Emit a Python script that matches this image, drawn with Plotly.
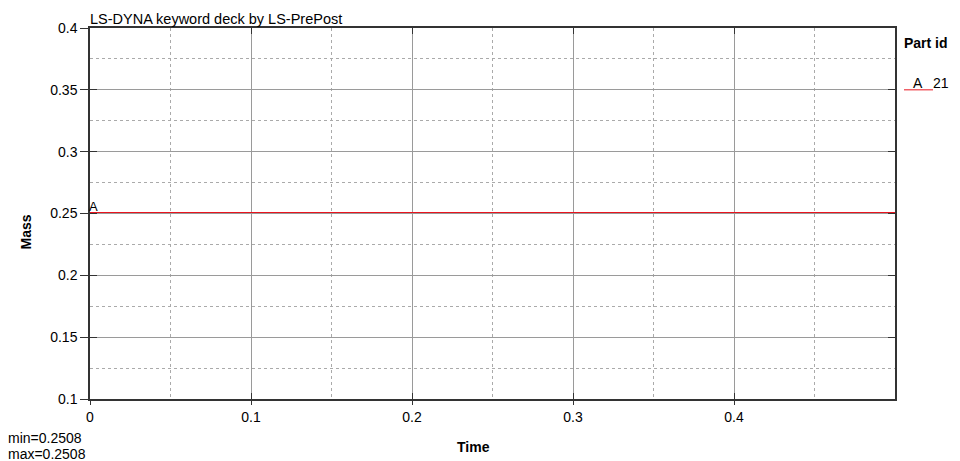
import plotly.graph_objects as go

# Data
time = [0.0, 0.5]
mass = [0.2508, 0.2508]
part_id = "21"
part_label = "A"
x_ticks = [0, 0.1, 0.2, 0.3, 0.4]
x_tick_text = ["0", "0.1", "0.2", "0.3", "0.4"]
y_ticks = [0.1, 0.15, 0.2, 0.25, 0.3, 0.35, 0.4]
y_tick_text = ["0.1", "0.15", "0.2", "0.25", "0.3", "0.35", "0.4"]

FONT = "Liberation Sans, Arial, sans-serif"
GRID = "#9a9a9a"
MINOR = "#aaaaaa"
RED = "#e8141e"

fig = go.Figure()
fig.add_trace(go.Scatter(x=time, y=mass, mode="lines",
                         line=dict(color=RED, width=1.2),
                         showlegend=False, hoverinfo="skip"))
# overlay dummy trace for inside ticks
fig.add_trace(go.Scatter(x=time, y=mass, mode="lines", xaxis="x2", yaxis="y2",
                         line=dict(color="rgba(0,0,0,0)", width=0),
                         showlegend=False, hoverinfo="skip"))

fig.update_layout(
    width=960, height=461,
    margin=dict(l=90, r=65, t=28, b=62),
    paper_bgcolor="white", plot_bgcolor="white",
    font=dict(family=FONT, size=13, color="black"),
    xaxis=dict(range=[0, 0.5], tickvals=x_ticks, ticktext=x_tick_text,
               showgrid=True, gridcolor=GRID, gridwidth=1,
               minor=dict(dtick=0.05, tick0=0, showgrid=True, gridcolor=MINOR,
                          griddash="3px,3px", ticks=""),
               showline=True, linecolor="#333", linewidth=1.5, mirror=True,
               ticks="outside", ticklen=4, tickcolor="#333",
               zeroline=False, tickfont=dict(size=14)),
    yaxis=dict(range=[0.1, 0.4], tickvals=y_ticks, ticktext=y_tick_text,
               showgrid=True, gridcolor=GRID, gridwidth=1,
               minor=dict(dtick=0.025, tick0=0.1, showgrid=True, gridcolor=MINOR,
                          griddash="3px,3px", ticks=""),
               showline=True, linecolor="#333", linewidth=1.5, mirror=True,
               ticks="outside", ticklen=8, tickcolor="#333",
               zeroline=False, tickfont=dict(size=14)),
    xaxis2=dict(range=[0, 0.5], tickvals=x_ticks, overlaying="x", anchor="y2",
                showticklabels=False, showgrid=False, zeroline=False,
                ticks="inside", ticklen=6, tickcolor="#333", mirror="ticks", showline=False),
    yaxis2=dict(range=[0.1, 0.4], tickvals=y_ticks, overlaying="y", anchor="x2",
                showticklabels=False, showgrid=False, zeroline=False,
                ticks="inside", ticklen=7, tickcolor="#333", mirror="ticks", showline=False),
)

# Title
fig.add_annotation(text="LS-DYNA keyword deck by LS-PrePost", xref="paper", yref="paper",
                   x=0, y=1, xanchor="left", yanchor="bottom", showarrow=False,
                   font=dict(size=14.5), xshift=-2, yshift=-1)
# axis titles
fig.add_annotation(text="<b>Time</b>", xref="paper", yref="paper", x=(473 - 90) / 805, y=0,
                   xanchor="center", yanchor="top", showarrow=False, yshift=-38, font=dict(size=14))
fig.add_annotation(text="<b>Mass</b>", xref="paper", yref="paper", x=0, y=0.5,
                   xanchor="center", yanchor="middle", textangle=-90, showarrow=False,
                   xshift=-65, yshift=-19, font=dict(size=14))
# min/max
fig.add_annotation(text=f"min={min(mass):.4f}", xref="paper", yref="paper", x=0, y=0,
                   xanchor="left", yanchor="top", showarrow=False, xshift=-84, yshift=-29,
                   font=dict(size=14))
fig.add_annotation(text=f"max={max(mass):.4f}", xref="paper", yref="paper", x=0, y=0,
                   xanchor="left", yanchor="top", showarrow=False, xshift=-84, yshift=-45,
                   font=dict(size=14))
# marker label on curve
fig.add_annotation(text=part_label, x=time[0], y=mass[0], xanchor="left", yanchor="bottom",
                   showarrow=False, xshift=-3, yshift=-3, font=dict(size=13))
# legend
fig.add_annotation(text="<b>Part id</b>", xref="paper", yref="paper", x=1, y=1,
                   xanchor="left", yanchor="middle", showarrow=False, xshift=7, yshift=-15,
                   font=dict(size=14))
fig.add_shape(type="line", xref="paper", yref="y", x0=1 + 9 / 805, x1=1 + 38 / 805,
              y0=0.35, y1=0.35, line=dict(color=RED, width=1))
fig.add_annotation(text=part_label, xref="paper", yref="y", x=1, y=0.35,
                   xanchor="left", yanchor="bottom", showarrow=False, xshift=16, yshift=-3,
                   font=dict(size=14))
fig.add_annotation(text=part_id, xref="paper", yref="y", x=1, y=0.35,
                   xanchor="left", yanchor="bottom", showarrow=False, xshift=36, yshift=-3,
                   font=dict(size=14))

fig.write_html("out.html")
